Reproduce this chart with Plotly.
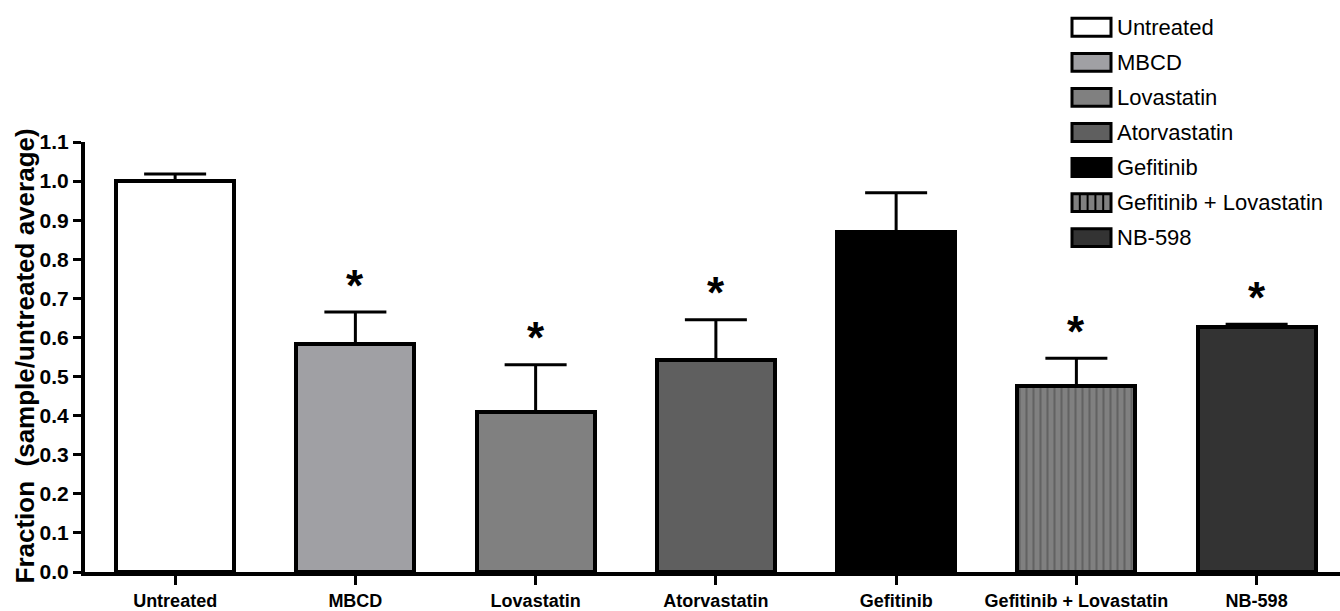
import plotly.graph_objects as go

# Data
categories = ["Untreated", "MBCD", "Lovastatin", "Atorvastatin",
              "Gefitinib", "Gefitinib + Lovastatin", "NB-598"]
means = [1.000, 0.582, 0.409, 0.543, 0.871, 0.476, 0.628]
upper = [1.018, 0.665, 0.530, 0.645, 0.970, 0.547, 0.634]
significant = [False, True, True, True, False, True, True]
y_ticks = [0.0, 0.1, 0.2, 0.3, 0.4, 0.5, 0.6, 0.7, 0.8, 0.9, 1.0, 1.1]

# Styling
fills = ["#ffffff", "#a0a0a4", "#808080", "#5f5f5f", "#000000", "#808080", "#333333"]
patterns = ["", "", "", "", "", "|", ""]
FONT = "Liberation Sans, Arial, Helvetica, sans-serif"
W, H = 1340, 611
L, T, B, R = 85, 142, 36, 0
PW, PH = W - L - R, H - T - B


def px_x(x):
    return (x - L) / PW


def px_y(y):
    return (H - B - y) / PH


errors = [u - m for u, m in zip(upper, means)]

fig = go.Figure()
fig.add_trace(go.Bar(
    x=categories,
    y=means,
    width=0.655,
    marker=dict(
        color=fills,
        line=dict(color="black", width=4),
        pattern=dict(shape=patterns, fgcolor="black", size=7, solidity=0.3,
                     fillmode="overlay"),
    ),
    error_y=dict(type="data", array=errors, arrayminus=[0] * len(errors),
                 symmetric=False, color="black", thickness=3, width=31),
    showlegend=False,
))

annotations = []
# significance markers above the error caps
for cat, top, sig in zip(categories, upper, significant):
    if sig:
        annotations.append(dict(
            x=cat, y=top, xref="x", yref="y", text="*", showarrow=False,
            yanchor="middle", yshift=27,
            font=dict(family=FONT, size=44, color="black", weight="bold"),
        ))

# y-axis title
annotations.append(dict(
    x=px_x(25), y=px_y(358), xref="paper", yref="paper",
    text="Fraction\u00a0 (sample/untreated average)", textangle=-90,
    showarrow=False, xanchor="center", yanchor="middle",
    font=dict(family=FONT, size=26, color="black", weight="bold"),
))

# legend drawn as boxes with labels in the top-right corner
shapes = []
box_l, box_r, box_h = 1072, 1111, 18
for i, (name, col, pat) in enumerate(zip(categories, fills, patterns)):
    cy = 26.5 + 35.3 * i
    shapes.append(dict(
        type="rect", xref="paper", yref="paper",
        x0=px_x(box_l), x1=px_x(box_r),
        y0=px_y(cy + box_h / 2), y1=px_y(cy - box_h / 2),
        fillcolor=col, line=dict(color="black", width=3), layer="above",
    ))
    if pat == "|":
        for k in range(1, 5):
            xs = box_l + k * (box_r - box_l) / 5
            shapes.append(dict(
                type="line", xref="paper", yref="paper",
                x0=px_x(xs), x1=px_x(xs),
                y0=px_y(cy + box_h / 2), y1=px_y(cy - box_h / 2),
                line=dict(color="black", width=2), layer="above",
            ))
    annotations.append(dict(
        x=px_x(1115), y=px_y(cy), xref="paper", yref="paper", text=name,
        showarrow=False, xanchor="left", yanchor="middle",
        font=dict(family=FONT, size=22, color="black"),
    ))

fig.update_layout(
    width=W, height=H,
    margin=dict(l=L, r=R, t=T, b=B, pad=0),
    paper_bgcolor="white", plot_bgcolor="white",
    bargap=0,
    annotations=annotations,
    shapes=shapes,
    xaxis=dict(
        type="category", range=[-0.5, -0.5 + PW / 180.25],
        showline=True, linecolor="black", linewidth=4,
        ticks="outside", ticklen=9, tickwidth=3, tickcolor="black",
        showgrid=False, zeroline=False,
        tickfont=dict(family=FONT, size=18, color="black", weight="bold"),
    ),
    yaxis=dict(
        range=[0, 1.1], tickvals=y_ticks, tickformat=".1f",
        showline=True, linecolor="black", linewidth=4,
        ticks="outside", ticklen=8, tickwidth=3, tickcolor="black",
        showgrid=False, zeroline=False,
        tickfont=dict(family=FONT, size=21, color="black", weight="bold"),
    ),
)

fig.write_html("out.html")
